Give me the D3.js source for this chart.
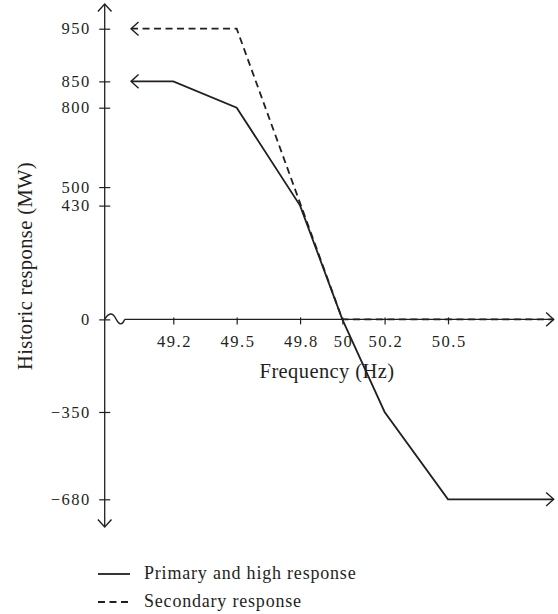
<!DOCTYPE html>
<html><head><meta charset="utf-8">
<script src="https://cdn.jsdelivr.net/npm/d3@7"></script>
<style>
body{margin:0;background:#fff}
text{font-family:"Liberation Serif","Times New Roman",serif;fill:#231f20}
</style>
</head><body><svg id="c" width="558" height="614"></svg>
<script>
// ---- data ----
const xTickValues = [49.2, 49.5, 49.8, 50, 50.2, 50.5];
const yTickValues = [950, 850, 800, 500, 430, 0, -350, -680];
const primaryFreq = [49.0, 49.2, 49.5, 49.8, 50.0, 50.2, 50.5, 51.0];
const primaryMW   = [850, 850, 800, 430, 0, -350, -680, -680];
const secondaryFreq = [49.0, 49.5, 50.0, 51.0];
const secondaryMW   = [950, 950, 0, 0];
const legendLabels = ["Primary and high response", "Secondary response"];
const xTitle = "Frequency (Hz)";
const yTitle = "Historic response (MW)";

// ---- layout ----
const INK = "#231f20";
const TICK_FS = 16.5, TICK_LS = 1.5;
const TITLE_FS = 20.5, TITLE_LS = 0.4;
const LEG_FS = 18, LEG_LS = 0.8;
const axisX = 104.7, axisTop = 4, axisBottom = 527;
const svg = d3.select("#c");

const x = d3.scaleLinear().domain([49.2, 50.5]).range([173.3, 448]);
// schematic (piecewise) vertical scale: the band above 800 MW is stretched
const y = d3.scaleLinear().domain([-680, 800, 950]).range([499.3, 107.7, 28.7]);
const xEnd = x(51.0);
const fmt = d => d < 0 ? "\u2212" + Math.abs(d) : String(d);

function arrow(tx, ty, dir) {
  const L = 7.5, W = 6.8;
  let p;
  if (dir === "left")  p = `M${tx+L},${ty-W}L${tx},${ty}L${tx+L},${ty+W}`;
  if (dir === "right") p = `M${tx-L},${ty-W}L${tx},${ty}L${tx-L},${ty+W}`;
  if (dir === "up")    p = `M${tx-W},${ty+L}L${tx},${ty}L${tx+W},${ty+L}`;
  if (dir === "down")  p = `M${tx-W},${ty-L}L${tx},${ty}L${tx+W},${ty-L}`;
  svg.append("path").attr("d", p).attr("fill", "none")
    .attr("stroke", INK).attr("stroke-width", 1.4);
}

// ---- y axis ----
const yAxisG = svg.append("g").attr("transform", `translate(${axisX},0)`)
  .call(d3.axisLeft(y).tickValues(yTickValues).tickSize(5.5).tickPadding(8.4).tickFormat(fmt));
yAxisG.select(".domain").remove();
yAxisG.selectAll(".tick line").attr("x2", -5.5).attr("x1", 5.5).attr("stroke", INK).attr("stroke-width", 1.2);
yAxisG.selectAll(".tick text").attr("font-size", TICK_FS).attr("font-family", null)
  .attr("letter-spacing", TICK_LS).attr("fill", INK);
svg.append("line").attr("x1", axisX).attr("x2", axisX).attr("y1", axisTop).attr("y2", axisBottom)
  .attr("stroke", INK).attr("stroke-width", 1.3);
arrow(axisX, axisTop, "up");
arrow(axisX, axisBottom, "down");

// ---- x axis ----
const y0 = y(0);
const xAxisG = svg.append("g").attr("transform", `translate(0,${y0})`)
  .call(d3.axisBottom(x).tickValues(xTickValues).tickSize(5).tickPadding(11).tickFormat(d => String(d)));
xAxisG.select(".domain").remove();
xAxisG.selectAll(".tick line").attr("y1", -2).attr("y2", 5).attr("stroke", INK).attr("stroke-width", 1.2);
xAxisG.selectAll(".tick text").attr("font-size", TICK_FS).attr("font-family", null)
  .attr("letter-spacing", TICK_LS).attr("dx", TICK_LS / 2).attr("fill", INK);
// axis break (wave) then line
svg.append("path")
  .attr("d", `M${axisX},${y0} C${axisX+4},${y0-7} ${axisX+8},${y0-7} ${axisX+11},${y0-1} S${axisX+17},${y0+7} ${axisX+20},${y0}`)
  .attr("fill", "none").attr("stroke", INK).attr("stroke-width", 1.3);
svg.append("line").attr("x1", axisX + 20).attr("x2", xEnd).attr("y1", y0).attr("y2", y0)
  .attr("stroke", INK).attr("stroke-width", 1.3);
arrow(xEnd, y0, "right");

// ---- series ----
const line = d3.line().x(d => x(d[0])).y(d => y(d[1]));
const primary = primaryFreq.map((f, i) => [f, primaryMW[i]]);
const secondary = secondaryFreq.map((f, i) => [f, secondaryMW[i]]);

svg.append("path").datum(secondary).attr("d", line).attr("fill", "none")
  .attr("stroke", INK).attr("stroke-width", 1.8).attr("stroke-dasharray", "7,4.5");
svg.append("path").datum(primary).attr("d", line).attr("fill", "none")
  .attr("stroke", INK).attr("stroke-width", 1.8);
arrow(x(primaryFreq[0]), y(primaryMW[0]), "left");
arrow(x(secondaryFreq[0]), y(secondaryMW[0]), "left");
arrow(x(primaryFreq[primaryFreq.length-1]), y(primaryMW[primaryMW.length-1]), "right");

// ---- titles ----
svg.append("text").attr("x", 327).attr("y", 378).attr("text-anchor", "middle")
  .attr("font-size", TITLE_FS).attr("letter-spacing", TITLE_LS).text(xTitle);
svg.append("text").attr("transform", "translate(31.5,266) rotate(-90)").attr("text-anchor", "middle")
  .attr("font-size", TITLE_FS).attr("letter-spacing", TITLE_LS).text(yTitle);

// ---- legend ----
const legend = svg.append("g").attr("transform", "translate(98,574)");
legendLabels.forEach((lab, i) => {
  const g = legend.append("g").attr("transform", `translate(0,${i * 28})`);
  g.append("line").attr("x1", 0).attr("x2", 32).attr("y1", 0).attr("y2", 0)
    .attr("stroke", INK).attr("stroke-width", 1.8)
    .attr("stroke-dasharray", i === 1 ? "7,4.5" : null);
  g.append("text").attr("x", 46).attr("y", 4.5).attr("font-size", LEG_FS)
    .attr("letter-spacing", LEG_LS).text(lab);
});
</script>
</body></html>
